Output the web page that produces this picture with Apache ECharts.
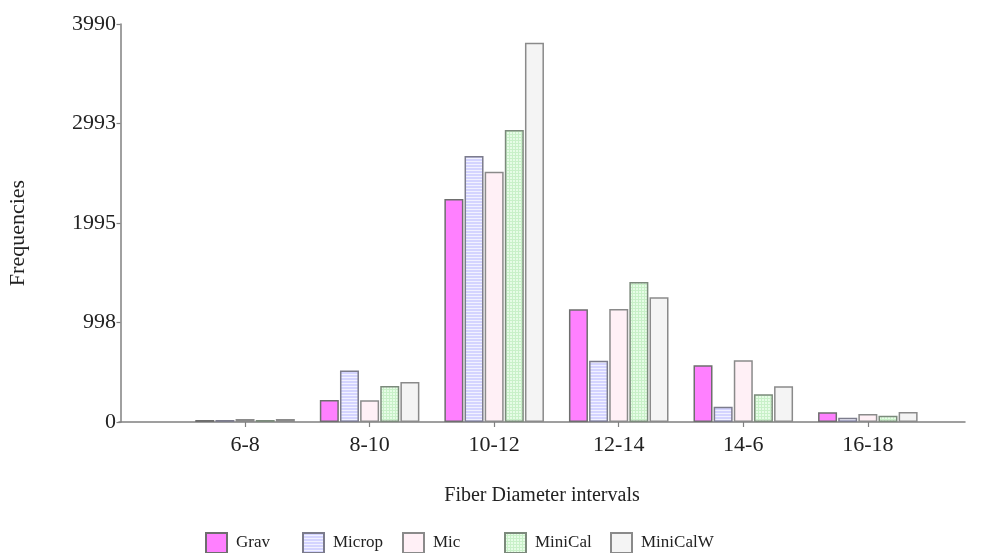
<!DOCTYPE html>
<html>
<head>
<meta charset="utf-8">
<script src="https://cdn.jsdelivr.net/npm/echarts@6/dist/echarts.min.js"></script>
<style>
    html, body { margin: 0; padding: 0; background: #fff; }
    #chart { width: 982px; height: 553px; }
</style>
</head>
<body>
<div id="chart"></div>
<script>
// 区间
var categories = ['6-8', '8-10', '10-12', '12-14', '14-6', '16-18'];
// 各方法频数
var grav = [20, 220, 2236, 1130, 568, 97];
var microp = [20, 517, 2667, 615, 154, 43];
var mic = [30, 217, 2509, 1133, 618, 80];
var miniCal = [20, 361, 2927, 1403, 278, 63];
var miniCalW = [30, 401, 3803, 1250, 358, 100];
// y轴刻度
var yTicks = [0, 998, 1995, 2993, 3990];

var serif = '"Liberation Serif", "DejaVu Serif", serif';

// 条纹填充
function makePattern(w, h, bg, line, mode) {
    var c = document.createElement('canvas');
    c.width = w;
    c.height = h;
    var ctx = c.getContext('2d');
    ctx.fillStyle = bg;
    ctx.fillRect(0, 0, w, h);
    ctx.fillStyle = line;
    if (mode === 'h' || mode === 'grid') {
        ctx.fillRect(0, h - 1, w, 1);
    }
    if (mode === 'grid') {
        ctx.fillRect(w - 1, 0, 1, h);
    }
    return { image: c, repeat: 'repeat' };
}

var seriesList = [
    { name: 'Grav', data: grav, color: '#ff80ff', border: '#6e6e6e' },
    { name: 'Microp', data: microp, color: makePattern(4, 3, '#d4d4ff', '#f2f2ff', 'h'), border: '#7c7c8c' },
    { name: 'Mic', data: mic, color: '#fff0f6', border: '#8a8a8a' },
    { name: 'MiniCal', data: miniCal, color: makePattern(3, 3, '#e6fce6', '#c8f0c8', 'grid'), border: '#7c8a7c' },
    { name: 'MiniCalW', data: miniCalW, color: '#f4f4f4', border: '#8a8a8a' }
];

var legendLeft = [205, 302, 402, 504, 610];

var myChart = echarts.init(document.getElementById('chart'));

var option = {
    animation: false,
    grid: {
        left: 119,
        right: 17,
        top: 24,
        bottom: 131,
        outerBoundsMode: 'none'
    },
    legend: seriesList.map(function (s, i) {
        return {
            data: [s.name],
            left: legendLeft[i],
            top: 532,
            icon: 'rect',
            itemWidth: 21,
            itemHeight: 20,
            itemGap: 0,
            padding: 0,
            textStyle: {
                fontFamily: serif,
                fontSize: 17,
                color: '#222',
                padding: [0, 0, 0, 4]
            }
        };
    }),
    xAxis: {
        type: 'value',
        min: -0.012,
        max: 6.78,
        name: 'Fiber Diameter intervals',
        nameLocation: 'middle',
        nameGap: 64,
        nameTextStyle: {
            fontFamily: serif,
            fontSize: 20,
            color: '#222'
        },
        axisLine: {
            show: true,
            lineStyle: { color: '#808080', width: 1.5 }
        },
        axisTick: {
            show: true,
            length: 5,
            customValues: [1, 2, 3, 4, 5, 6],
            lineStyle: { color: '#808080', width: 1.2 }
        },
        axisLabel: {
            customValues: [1, 2, 3, 4, 5, 6],
            margin: 12,
            fontFamily: serif,
            fontSize: 22,
            color: '#222',
            formatter: function (v) {
                return categories[Math.round(v) - 1] || '';
            }
        },
        splitLine: { show: false }
    },
    yAxis: {
        type: 'value',
        min: 0,
        max: 3990,
        interval: 997.5,
        name: 'Frequencies',
        nameLocation: 'middle',
        nameGap: 90,
        nameTextStyle: {
            fontFamily: serif,
            fontSize: 22,
            color: '#222',
            padding: [0, 20, 0, 0]
        },
        axisLine: {
            show: true,
            lineStyle: { color: '#808080', width: 1.5 }
        },
        axisTick: {
            show: true,
            length: 4,
            lineStyle: { color: '#808080', width: 1.2 }
        },
        axisLabel: {
            margin: 3,
            fontFamily: serif,
            fontSize: 22,
            color: '#222',
            formatter: function (v) {
                var idx = Math.round(v / 997.5);
                return yTicks[idx] != null ? String(yTicks[idx]) : '';
            }
        },
        splitLine: { show: false }
    },
    series: seriesList.map(function (s) {
        return {
            name: s.name,
            type: 'bar',
            barWidth: 19,
            barGap: '6%',
            data: s.data.map(function (v, i) {
                return [i + 1, v];
            }),
            itemStyle: {
                color: s.color,
                borderColor: s.border,
                borderWidth: 1.5
            }
        };
    })
};

myChart.setOption(option);
</script>
</body>
</html>
